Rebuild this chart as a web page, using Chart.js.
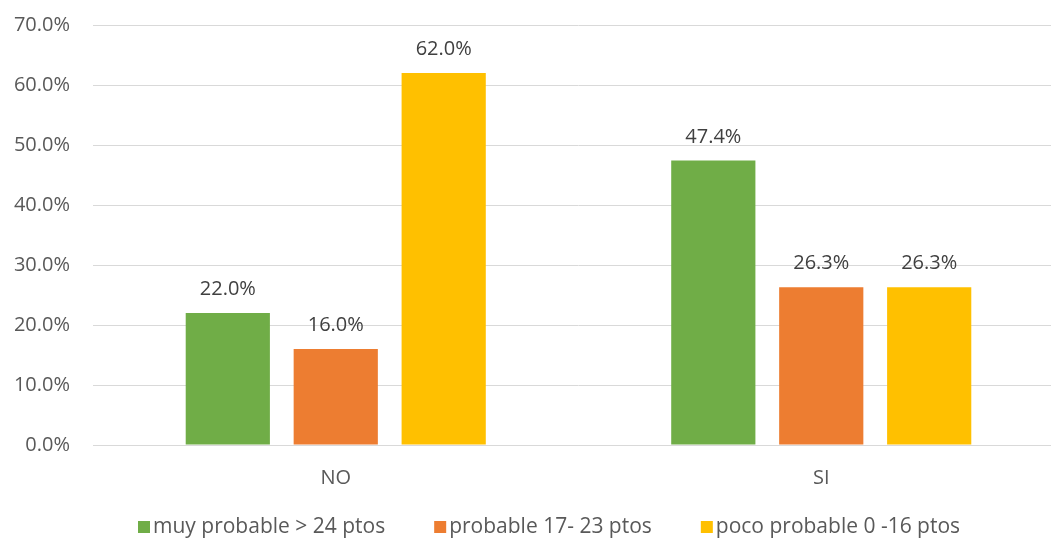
<!DOCTYPE html>
<html>
<head>
<meta charset="utf-8">
<script src="https://cdn.jsdelivr.net/npm/chart.js@4"></script>
<style>
    html, body { margin: 0; padding: 0; background: #fff; overflow: hidden; }
    #grafico { display: block; margin-top: -10px; }
</style>
</head>
<body>
<canvas id="grafico" width="1064" height="552"></canvas>
<script>
var categorias = ['NO', 'SI'];
var nomesSeries = ['muy probable > 24 ptos', 'probable 17- 23 ptos', 'poco probable 0 -16 ptos'];
var muyProbable = [22.0, 47.4];
var probable = [16.0, 26.3];
var pocoProbable = [62.0, 26.3];
var coresSeries = ['#70AD47', '#ED7D31', '#FFC000'];
var yMax = 70;
var yPasso = 10;

var fonte = "'Open Sans', 'Liberation Sans', sans-serif";

// rótulos em cima das barras
var rotulosPlugin = {
    id: 'rotulos',
    afterDatasetsDraw: function(chart) {
        var ctx = chart.ctx;
        ctx.save();
        ctx.font = '20px ' + fonte;
        ctx.fillStyle = '#404040';
        ctx.textAlign = 'center';
        ctx.textBaseline = 'alphabetic';
        chart.data.datasets.forEach(function(ds, i) {
            chart.getDatasetMeta(i).data.forEach(function(bar, j) {
                ctx.fillText(ds.data[j].toFixed(1) + '%', bar.x, bar.y - 18);
            });
        });
        ctx.restore();
    }
};

// legenda desenhada à mão para acertar a posição
var legendaPlugin = {
    id: 'legenda',
    afterDraw: function(chart) {
        var ctx = chart.ctx;
        ctx.save();
        ctx.font = '21px ' + fonte;
        ctx.textBaseline = 'middle';
        ctx.textAlign = 'left';
        var x = 138;
        var y = chart.chartArea.bottom + 82;
        chart.data.datasets.forEach(function(ds) {
            ctx.fillStyle = ds.backgroundColor;
            ctx.fillRect(x, y - 6, 12, 12);
            x += 15;
            ctx.fillStyle = '#595959';
            ctx.fillText(ds.label, x, y);
            x += ctx.measureText(ds.label).width + 49;
        });
        ctx.restore();
    }
};

var ctx = document.getElementById('grafico').getContext('2d');

new Chart(ctx, {
    type: 'bar',
    data: {
        labels: categorias,
        datasets: [
            { label: nomesSeries[0], data: muyProbable, backgroundColor: coresSeries[0] },
            { label: nomesSeries[1], data: probable, backgroundColor: coresSeries[1] },
            { label: nomesSeries[2], data: pocoProbable, backgroundColor: coresSeries[2] }
        ]
    },
    options: {
        responsive: false,
        animation: false,
        devicePixelRatio: 1,
        categoryPercentage: 0.667,
        barPercentage: 0.78,
        layout: { padding: { top: 3, right: 0, bottom: 0, left: 0 } },
        plugins: {
            legend: { display: false },
            tooltip: { enabled: false }
        },
        scales: {
            x: {
                grid: { display: false, drawTicks: false },
                border: { color: '#D9D9D9', width: 1 },
                ticks: { color: '#595959', font: { family: fonte, size: 20 }, padding: 21 },
                afterFit: function(scale) { scale.height = 97; }
            },
            y: {
                min: 0,
                max: yMax,
                ticks: {
                    stepSize: yPasso,
                    color: '#595959',
                    font: { family: fonte, size: 20 },
                    padding: 23,
                    callback: function(v) { return v.toFixed(1) + '%'; }
                },
                grid: { color: '#D9D9D9', lineWidth: 1, drawTicks: false },
                border: { display: false },
                afterFit: function(scale) { scale.width = 93; }
            }
        }
    },
    plugins: [rotulosPlugin, legendaPlugin]
});
</script>
</body>
</html>
